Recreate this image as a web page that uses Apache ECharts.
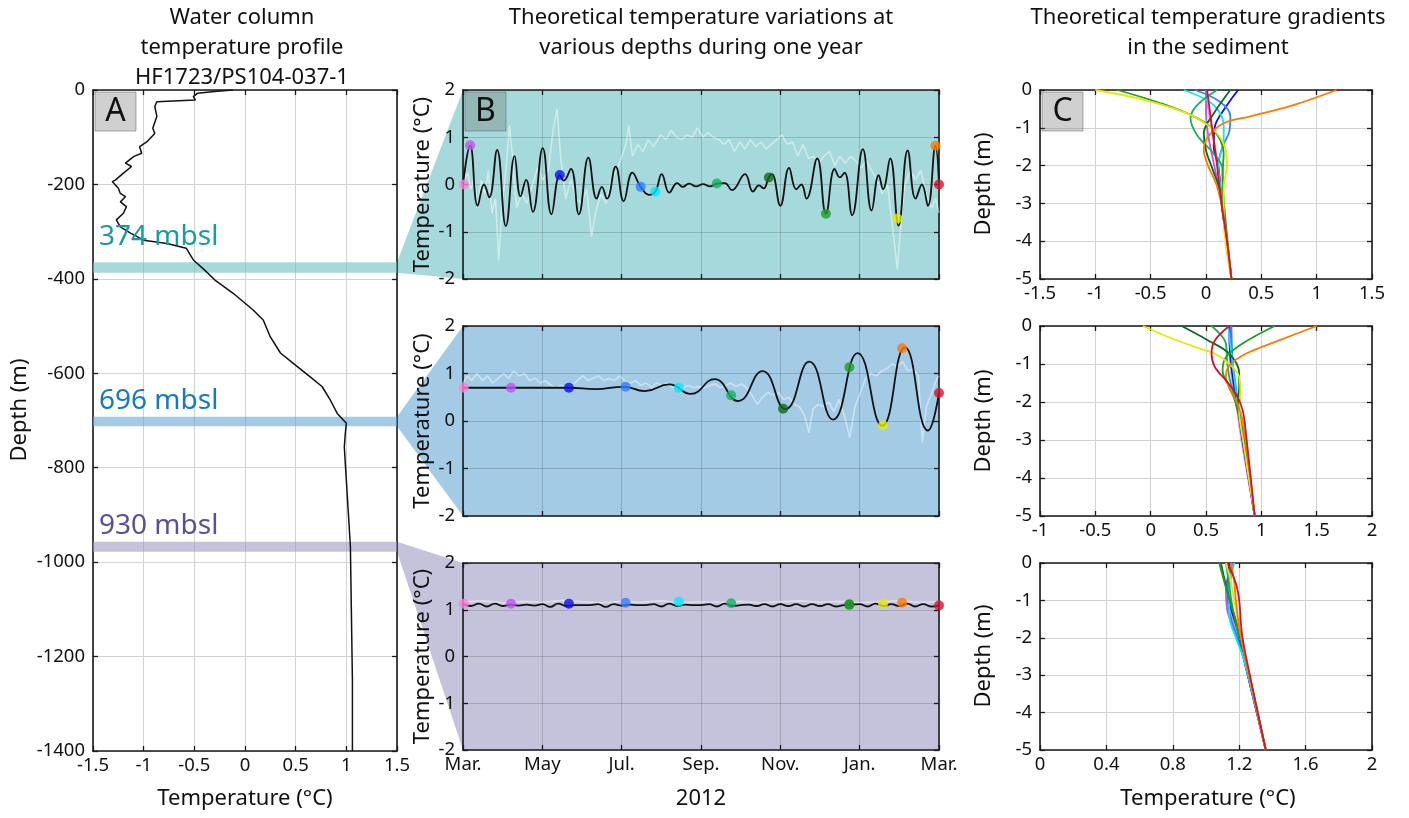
<!DOCTYPE html>
<html>
<head>
<meta charset="utf-8">
<script src="https://cdn.jsdelivr.net/npm/echarts@6/dist/echarts.min.js"></script>
<style>
html,body{margin:0;padding:0;background:#fff;}
#main{width:1409px;height:818px;}
</style>
</head>
<body>
<div id="main"></div>
<script>
var FONT = '"Noto Sans"';

// panel A: water column profile
var profileTemp = [-0.12,-0.3,-0.47,-0.51,-0.49,-0.87,-0.89,-0.87,-0.91,-0.89,-0.97,-1.04,-1.02,-1.1,-1.18,-1.12,-1.2,-1.28,-1.31,-1.25,-1.23,-1.18,-1.23,-1.17,-1.2,-1.27,-1.23,-1.13,-1.0,-0.77,-0.58,-0.51,-0.4,-0.3,-0.12,0.08,0.18,0.25,0.35,0.47,0.64,0.76,0.84,0.91,1.0,0.99,0.98,1.0,1.02,1.04,1.05,1.06,1.06];
var profileDepth = [0,-3,-7,-14,-21,-25,-35,-56,-81,-92,-110,-120,-134,-141,-155,-162,-176,-191,-194,-208,-219,-226,-237,-247,-261,-275,-290,-303,-318,-325,-335,-360,-381,-402,-430,-466,-487,-523,-557,-578,-607,-628,-656,-685,-706,-727,-756,-826,-896,-967,-1108,-1250,-1400];
var bandDepths = [[-365,-387],[-692,-712],[-957,-978]];
var bandNames = ['374 mbsl','696 mbsl','930 mbsl'];

// panel B: months since 1 March 2012
var monthLabels = ['Mar.','May','Jul.','Sep.','Nov.','Jan.','Mar.'];
var modelTop = [[0,0],[0.18,0.83],[0.37,-0.45],[0.53,0],[0.66,-0.27],[0.86,0.73],[1.08,-0.88],[1.3,0.6],[1.45,-0.25],[1.59,0.1],[1.76,-0.58],[2.01,0.77],[2.23,-0.63],[2.44,0.2],[2.54,0.08],[2.72,0.33],[2.92,-0.63],[3.16,0.57],[3.37,-0.3],[3.5,-0.05],[3.63,-0.3],[3.85,0.38],[4.05,-0.35],[4.27,0.25],[4.48,-0.05],[4.69,-0.22],[4.85,-0.15],[5.01,0.22],[5.2,-0.17],[5.4,0.03],[5.54,-0.05],[5.7,0.02],[5.88,-0.04],[6.05,0.01],[6.23,-0.04],[6.4,0.02],[6.6,0.03],[6.78,-0.12],[7.11,0.22],[7.31,-0.15],[7.46,-0.02],[7.58,-0.08],[7.71,0.15],[7.79,0.22],[8.0,-0.45],[8.22,0.35],[8.4,-0.1],[8.53,0],[8.66,-0.3],[8.93,0.55],[9.15,-0.62],[9.37,0.33],[9.5,0.15],[9.62,0.25],[9.81,-0.65],[10.08,0.75],[10.3,-0.55],[10.48,0.2],[10.59,-0.1],[10.77,0.55],[10.98,-0.87],[11.21,0.72],[11.41,-0.3],[11.57,0],[11.72,-0.45],[11.91,0.82],[12,0]];
var obsTop = [[0,0.05],[0.11,0.25],[0.2,-0.1],[0.28,0.15],[0.37,-0.5],[0.46,0.1],[0.55,-0.2],[0.64,0.3],[0.73,-0.6],[0.82,-0.3],[0.9,-1.6],[0.99,-0.4],[1.08,0.3],[1.17,1.25],[1.26,0.5],[1.35,-0.5],[1.48,-0.2],[1.61,-0.4],[1.75,0],[1.88,0.35],[2.01,0.1],[2.15,0.3],[2.28,1.2],[2.37,1.6],[2.46,0.6],[2.59,-0.3],[2.72,0.1],[2.85,-0.3],[2.99,-0.4],[3.12,-0.1],[3.24,-1.1],[3.34,-0.6],[3.48,-0.2],[3.61,-0.4],[3.74,0.1],[3.87,0.3],[4.01,0.6],[4.12,0.9],[4.18,1.25],[4.27,0.6],[4.41,0.85],[4.54,0.7],[4.67,0.95],[4.8,0.8],[4.98,1.05],[5.12,0.95],[5.25,1.15],[5.38,1.0],[5.51,0.95],[5.65,1.05],[5.78,1.0],[5.91,1.2],[6.05,1.0],[6.18,1.1],[6.31,1.0],[6.45,0.95],[6.58,0.85],[6.71,0.95],[6.84,0.7],[6.98,0.9],[7.11,0.75],[7.24,0.95],[7.38,0.8],[7.51,0.9],[7.64,0.75],[7.77,0.85],[7.91,0.95],[8.04,1.05],[8.17,0.85],[8.31,0.9],[8.44,0.6],[8.57,0.85],[8.71,0.55],[8.84,0.6],[8.97,0.45],[9.1,0.6],[9.24,0.7],[9.37,0.4],[9.5,0.6],[9.64,0.45],[9.77,0.6],[9.9,0.5],[10.04,0.35],[10.17,0.5],[10.3,0.3],[10.43,0.1],[10.57,-0.2],[10.7,0],[10.83,-0.9],[10.95,-1.8],[11.04,-0.8],[11.14,0],[11.28,0.3],[11.41,0.1],[11.54,0.3],[11.68,-0.2],[11.81,-0.5],[11.92,-0.3],[12,-0.6]];
var modelMid = [[0,0.7],[1.21,0.7],[2.67,0.7],[3.34,0.67],[4.05,0.72],[4.58,0.63],[5.2,0.77],[5.74,0.57],[6.34,0.88],[6.93,0.42],[7.55,1.05],[8.13,0.25],[8.73,1.25],[9.33,0.03],[9.95,1.43],[10.57,-0.1],[11.14,1.55],[11.72,-0.2],[12,0.59]];
var obsMid = [[0,0.8],[0.11,0.95],[0.22,0.85],[0.35,1.0],[0.49,0.85],[0.62,0.95],[0.75,0.8],[0.89,0.9],[1.02,1.0],[1.15,0.9],[1.28,1.05],[1.42,0.95],[1.55,1.0],[1.68,0.85],[1.82,0.9],[1.95,0.8],[2.08,0.85],[2.22,0.75],[2.35,0.7],[2.48,0.75],[2.62,0.7],[2.75,0.75],[2.88,0.85],[3.02,0.95],[3.15,0.85],[3.28,0.9],[3.42,0.95],[3.55,0.85],[3.68,0.9],[3.82,0.85],[3.95,0.95],[4.08,0.85],[4.22,0.8],[4.35,0.85],[4.48,0.75],[4.62,0.8],[4.75,0.7],[4.88,0.8],[5.02,0.75],[5.15,0.8],[5.28,0.7],[5.42,0.75],[5.55,0.7],[5.68,0.75],[5.82,0.7],[5.95,0.72],[6.08,0.7],[6.22,0.75],[6.35,0.78],[6.48,0.7],[6.62,0.75],[6.75,0.8],[6.88,0.72],[7.02,0.78],[7.15,0.7],[7.28,0.55],[7.42,0.35],[7.55,0.5],[7.68,0.6],[7.82,0.55],[7.95,0.6],[8.08,0.45],[8.22,0.5],[8.35,0.35],[8.48,0.3],[8.62,0.1],[8.72,-0.25],[8.82,0.25],[8.95,0.35],[9.08,0.3],[9.22,0.4],[9.35,0.2],[9.48,0.45],[9.62,0.1],[9.75,-0.35],[9.88,0.3],[10.02,0.6],[10.15,0.9],[10.28,1.0],[10.42,0.95],[10.55,1.05],[10.68,1.1],[10.82,1.2],[10.95,1.15],[11.08,1.25],[11.22,1.05],[11.35,1.1],[11.48,0.95],[11.58,-0.45],[11.68,0.3],[11.82,0.6],[11.95,0.9],[12,0.95]];
// bottom model read every 0.2 month
var modelBotTemps = [1.12,1.08,1.13,1.07,1.13,1.08,1.11,1.09,1.11,1.09,1.12,1.06,1.13,1.08,1.1,1.1,1.1,1.12,1.06,1.12,1.09,1.11,1.1,1.1,1.12,1.07,1.13,1.08,1.11,1.1,1.1,1.12,1.07,1.13,1.08,1.1,1.11,1.08,1.12,1.07,1.12,1.08,1.12,1.07,1.12,1.08,1.12,1.07,1.1,1.11,1.12,1.07,1.13,1.08,1.12,1.08,1.13,1.07,1.12,1.07,1.09];
// bottom observation read every 0.5 month
var obsBotTemps = [1.17,1.19,1.15,1.18,1.16,1.2,1.17,1.15,1.18,1.16,1.19,1.15,1.17,1.16,1.18,1.15,1.17,1.19,1.16,1.18,1.15,1.17,1.19,1.16,1.17];

// dots: pink, purple, blue, light blue, cyan, green, dark green, green, yellow, orange, red
var dotColors = ['#ff7fdc','#c052f0','#0a10e8','#3080ff','#00eaff','#12b35a','#0b6a1c','#1f9f1f','#e8e800','#ff7800','#d8102c'];
var dotTopMonths = [0.02,0.18,2.44,4.48,4.85,6.4,7.71,9.15,10.95,11.91,12];
var dotTopTemps = [0,0.83,0.2,-0.05,-0.15,0.02,0.15,-0.62,-0.72,0.82,0];
var dotMidMonths = [0.02,1.21,2.67,4.1,5.44,6.76,8.07,9.74,10.59,11.07,12];
var dotMidTemps = [0.7,0.7,0.7,0.72,0.7,0.54,0.26,1.13,-0.09,1.53,0.59];
var dotBotMonths = [0.02,1.21,2.67,4.1,5.44,6.76,9.74,9.74,10.59,11.07,12];
var dotBotTemps = [1.13,1.13,1.13,1.15,1.17,1.14,1.11,1.11,1.13,1.15,1.09];

// panel C: [temperature, depth] per dot colour
var gradTop = [
  [[0,0],[0.02,-0.5],[0.05,-1],[0.08,-1.5],[0.11,-2],[0.13,-2.5],[0.15,-3],[0.23,-5]],
  [[0,0],[0,-0.6],[0.02,-1.2],[0.06,-1.8],[0.11,-2.5],[0.14,-3],[0.23,-5]],
  [[0.29,0],[0.16,-0.53],[0.08,-0.97],[0.07,-1.5],[0.11,-2],[0.13,-2.6],[0.15,-3.2],[0.23,-5]],
  [[-0.1,0],[0.12,-0.3],[0.22,-0.7],[0.21,-1.1],[0.15,-1.5],[0.11,-2],[0.13,-2.6],[0.15,-3.2],[0.23,-5]],
  [[-0.2,0],[0.07,-0.4],[0.16,-0.97],[0.16,-1.32],[0.11,-2],[0.13,-2.6],[0.15,-3.2],[0.23,-5]],
  [[0.1,0],[-0.08,-0.4],[-0.14,-0.75],[-0.08,-1.2],[0.06,-1.65],[0.15,-2.1],[0.15,-2.6],[0.16,-3.2],[0.23,-5]],
  [[0.22,0],[0.07,-0.62],[-0.02,-1.14],[0,-1.6],[0.06,-2.1],[0.12,-2.6],[0.15,-3.2],[0.23,-5]],
  [[-0.8,0],[-0.41,-0.35],[-0.11,-0.7],[0.07,-1.06],[0.16,-1.67],[0.15,-2.2],[0.16,-2.9],[0.23,-5]],
  [[-1.0,0],[-0.56,-0.26],[-0.17,-0.62],[0.07,-1.06],[0.17,-1.5],[0.19,-2.02],[0.16,-2.55],[0.16,-3.35],[0.23,-5]],
  [[1.18,0],[0.79,-0.4],[0.4,-0.7],[0.16,-0.88],[0.02,-1.23],[-0.02,-1.58],[0.01,-1.94],[0.1,-2.55],[0.16,-3.35],[0.23,-5]],
  [[0.01,0],[0.055,-1],[0.1,-2],[0.14,-3],[0.19,-4],[0.23,-5]]
];
var gradMid = [
  [[0.71,0],[0.72,-1],[0.75,-1.7],[0.78,-2.2],[0.82,-3],[0.94,-5]],
  [[0.72,0],[0.73,-1],[0.76,-1.7],[0.79,-2.2],[0.83,-3],[0.94,-5]],
  [[0.71,0],[0.72,-0.8],[0.75,-1.5],[0.79,-2.2],[0.83,-3],[0.94,-5]],
  [[0.73,0],[0.74,-0.9],[0.77,-1.6],[0.8,-2.2],[0.84,-3],[0.94,-5]],
  [[0.7,0],[0.74,-1],[0.77,-1.7],[0.8,-2.3],[0.84,-3],[0.94,-5]],
  [[0.55,0],[0.68,-0.46],[0.69,-0.9],[0.71,-1.34],[0.75,-1.8],[0.8,-2.4],[0.84,-3.1],[0.94,-5]],
  [[0.28,0],[0.52,-0.38],[0.71,-0.73],[0.8,-1.25],[0.8,-1.6],[0.79,-2.04],[0.83,-2.8],[0.94,-5]],
  [[1.12,0],[0.83,-0.46],[0.68,-0.82],[0.65,-1.17],[0.71,-1.6],[0.77,-2.04],[0.83,-2.8],[0.94,-5]],
  [[-0.07,0],[0.16,-0.29],[0.4,-0.55],[0.58,-0.73],[0.71,-1],[0.8,-1.34],[0.81,-1.78],[0.8,-2.2],[0.84,-3.1],[0.94,-5]],
  [[1.5,0],[1.16,-0.38],[0.86,-0.73],[0.71,-1.04],[0.68,-1.34],[0.72,-1.69],[0.77,-1.96],[0.83,-2.48],[0.94,-5]],
  [[0.71,0],[0.58,-0.38],[0.55,-0.73],[0.58,-1.08],[0.68,-1.43],[0.77,-1.78],[0.83,-2.2],[0.86,-2.8],[0.94,-5]]
];
var gradBot = [
  [[1.15,0],[1.13,-0.6],[1.14,-1.2],[1.18,-1.8],[1.23,-2.6],[1.36,-5]],
  [[1.16,0],[1.12,-0.7],[1.13,-1.3],[1.18,-1.9],[1.23,-2.6],[1.36,-5]],
  [[1.14,0],[1.13,-0.6],[1.15,-1.2],[1.19,-1.8],[1.23,-2.6],[1.36,-5]],
  [[1.16,0],[1.13,-0.7],[1.14,-1.3],[1.18,-1.9],[1.23,-2.6],[1.36,-5]],
  [[1.17,0],[1.14,-0.8],[1.14,-1.4],[1.18,-2],[1.23,-2.6],[1.36,-5]],
  [[1.12,0],[1.14,-0.6],[1.16,-1.2],[1.19,-1.8],[1.24,-2.6],[1.36,-5]],
  [[1.09,0],[1.12,-0.6],[1.15,-1.1],[1.19,-1.7],[1.24,-2.6],[1.36,-5]],
  [[1.08,0],[1.11,-0.5],[1.15,-1.1],[1.19,-1.7],[1.24,-2.6],[1.36,-5]],
  [[1.12,0],[1.15,-0.5],[1.17,-1],[1.2,-1.7],[1.24,-2.6],[1.36,-5]],
  [[1.15,0],[1.17,-0.5],[1.18,-1],[1.2,-1.7],[1.24,-2.6],[1.36,-5]],
  [[1.13,0],[1.18,-0.55],[1.2,-1],[1.21,-1.6],[1.22,-2],[1.25,-2.7],[1.36,-5]]
];

var panelBg = ['#a6d9db','#a3cbe6','#c5c3dc'];
var bandFill = ['rgba(107,192,195,0.6)','rgba(102,168,213,0.6)','rgba(158,155,197,0.6)'];
var bandText = ['#1a9c9e','#1479c8','#5b4e9b'];

var grids = [
  {left: 93, top: 90, width: 304, height: 661},
  {left: 463, top: 90, width: 476, height: 189, show: true, borderWidth: 0, backgroundColor: panelBg[0]},
  {left: 463, top: 326, width: 476, height: 190, show: true, borderWidth: 0, backgroundColor: panelBg[1]},
  {left: 463, top: 563, width: 476, height: 187, show: true, borderWidth: 0, backgroundColor: panelBg[2]},
  {left: 1040, top: 90, width: 332, height: 189},
  {left: 1040, top: 326, width: 332, height: 190},
  {left: 1040, top: 563, width: 332, height: 187}
];

var plainFmt = function(v) { return String(+v.toFixed(1)); };
var monthFmt = function(v) { return monthLabels[Math.round(v / 2)]; };

var xAxes = [], yAxes = [];
function addAxes(gi, xr, yr, gridColor, xLabel, xFmt) {
  var line = {show: true, onZero: false, lineStyle: {color: '#1a1a1a', width: 1.6}};
  var tick = {show: true, inside: true, length: 5, lineStyle: {color: '#1a1a1a', width: 1.3}};
  var split = {show: true, lineStyle: {color: gridColor, width: 1}};
  var xl = {show: xLabel, margin: 5, color: '#111', fontSize: 18.5, fontFamily: FONT, formatter: xFmt || plainFmt};
  xAxes.push({type: 'value', gridIndex: gi, position: 'bottom', min: xr[0], max: xr[1], interval: xr[2],
    axisLine: line, axisTick: tick, splitLine: split, axisLabel: xl});
  xAxes.push({type: 'value', gridIndex: gi, position: 'top', min: xr[0], max: xr[1], interval: xr[2],
    axisLine: line, axisTick: tick, splitLine: {show: false}, axisLabel: {show: false}});
  yAxes.push({type: 'value', gridIndex: gi, position: 'left', min: yr[0], max: yr[1], interval: yr[2],
    axisLine: line, axisTick: tick, splitLine: split,
    axisLabel: {margin: 8, color: '#111', fontSize: 18.5, fontFamily: FONT, formatter: plainFmt}});
  yAxes.push({type: 'value', gridIndex: gi, position: 'right', min: yr[0], max: yr[1], interval: yr[2],
    axisLine: line, axisTick: tick, splitLine: {show: false}, axisLabel: {show: false}});
}

addAxes(0, [-1.5, 1.5, 0.5], [-1400, 0, 200], '#d2d2d2', true);
addAxes(1, [0, 12, 2], [-2, 2, 1], 'rgba(0,0,0,0.16)', false);
addAxes(2, [0, 12, 2], [-2, 2, 1], 'rgba(0,0,0,0.16)', false);
addAxes(3, [0, 12, 2], [-2, 2, 1], 'rgba(0,0,0,0.16)', true, monthFmt);
addAxes(4, [-1.5, 1.5, 0.5], [-5, 0, 1], '#d2d2d2', true);
addAxes(5, [-1, 2, 0.5], [-5, 0, 1], '#d2d2d2', true);
addAxes(6, [0, 2, 0.4], [-5, 0, 1], '#d2d2d2', true);

var series = [];
series.push({
  type: 'line', xAxisIndex: 0, yAxisIndex: 0, symbol: 'none', z: 3,
  data: profileTemp.map(function(t, i) { return [t, profileDepth[i]]; }),
  lineStyle: {color: '#111', width: 1.5},
  markArea: {silent: true, data: bandDepths.map(function(b, i) {
    return [{coord: [-1.5, b[0]], itemStyle: {color: bandFill[i]}}, {coord: [1.5, b[1]]}];
  })}
});

function addPanelB(gi, obs, model, smooth, dm, dt) {
  var ax = gi * 2;
  series.push({type: 'line', xAxisIndex: ax, yAxisIndex: ax, symbol: 'none', data: obs,
    lineStyle: {color: 'rgba(255,255,255,0.45)', width: 1.6}, z: 2});
  series.push({type: 'line', xAxisIndex: ax, yAxisIndex: ax, symbol: 'none', data: model, smooth: smooth,
    lineStyle: {color: '#111', width: 1.8}, z: 3});
  series.push({type: 'scatter', xAxisIndex: ax, yAxisIndex: ax, symbolSize: 10, z: 4,
    data: dm.map(function(m, i) { return {value: [m, dt[i]], itemStyle: {color: dotColors[i]}}; })});
}
addPanelB(1, obsTop, modelTop, 0.45, dotTopMonths, dotTopTemps);
addPanelB(2, obsMid, modelMid, 0.5, dotMidMonths, dotMidTemps);
addPanelB(3,
  obsBotTemps.map(function(v, i) { return [i * 0.5, v]; }),
  modelBotTemps.map(function(v, i) { return [i * 0.2, v]; }),
  0.5, dotBotMonths, dotBotTemps);

function addPanelC(gi, curves) {
  curves.forEach(function(c, i) {
    series.push({type: 'line', xAxisIndex: gi * 2, yAxisIndex: gi * 2, symbol: 'none', smooth: 0.35,
      data: c, lineStyle: {color: dotColors[i], width: 1.8}, z: 3});
  });
}
addPanelC(4, gradTop);
addPanelC(5, gradMid);
addPanelC(6, gradBot);

var chart = echarts.init(document.getElementById('main'));
chart.setOption({
  animation: false,
  backgroundColor: '#fff',
  grid: grids,
  xAxis: xAxes,
  yAxis: yAxes,
  series: series
});

// titles, axis names, panel letters, wedges
function txt(s, x, y, size, opts) {
  var o = {type: 'text', x: x, y: y, z: 10, style: {text: s, fill: (opts && opts.fill) || '#111',
    font: size + 'px ' + FONT, textAlign: (opts && opts.align) || 'center', textVerticalAlign: 'middle'}};
  if (opts && opts.rot) o.rotation = opts.rot;
  return o;
}
var g = [];
['Water column', 'temperature profile', 'HF1723/PS104-037-1'].forEach(function(s, i) {
  g.push(txt(s, 242, 18 + i * 30, 22));
});
['Theoretical temperature variations at', 'various depths during one year'].forEach(function(s, i) {
  g.push(txt(s, 701, 18 + i * 30, 22));
});
['Theoretical temperature gradients', 'in the sediment'].forEach(function(s, i) {
  g.push(txt(s, 1208, 18 + i * 30, 22));
});
g.push(txt('Depth (m)', 20, 410, 22, {rot: Math.PI / 2}));
g.push(txt('Depth (m)', 984, 184, 22, {rot: Math.PI / 2}));
g.push(txt('Depth (m)', 984, 421, 22, {rot: Math.PI / 2}));
g.push(txt('Depth (m)', 984, 656, 22, {rot: Math.PI / 2}));
[1, 2, 3].forEach(function(gi) {
  g.push(txt('Temperature (°C)', 423, grids[gi].top + grids[gi].height / 2, 22, {rot: Math.PI / 2}));
});
g.push(txt('Temperature (°C)', 245, 799, 22));
g.push(txt('2012', 701, 799, 22));
g.push(txt('Temperature (°C)', 1208, 799, 22));

[[0, 'A'], [1, 'B'], [4, 'C']].forEach(function(p) {
  var gr = grids[p[0]];
  g.push({type: 'rect', z: 9, shape: {x: gr.left + 2, y: gr.top + 2, width: 41, height: 39},
    style: {fill: 'rgba(110,110,110,0.32)', stroke: 'rgba(80,80,80,0.45)', lineWidth: 1}});
  g.push(txt(p[1], gr.left + 22.5, gr.top + 22, 32));
});

var labelLift = [25, 16, 16];
bandDepths.forEach(function(b, i) {
  var p1 = chart.convertToPixel({gridIndex: 0}, [1.5, b[0]]);
  var p2 = chart.convertToPixel({gridIndex: 0}, [1.5, b[1]]);
  var q1 = chart.convertToPixel({gridIndex: i + 1}, [0, 2]);
  var q2 = chart.convertToPixel({gridIndex: i + 1}, [0, -2]);
  g.push({type: 'polygon', z: -1, shape: {points: [p1, q1, q2, p2]}, style: {fill: panelBg[i]}});
  var l = chart.convertToPixel({gridIndex: 0}, [-1.5, b[0]]);
  g.push(txt(bandNames[i], l[0] + 6, l[1] - labelLift[i], 28, {align: 'left', fill: bandText[i]}));
});

chart.setOption({graphic: g});
</script>
</body>
</html>
